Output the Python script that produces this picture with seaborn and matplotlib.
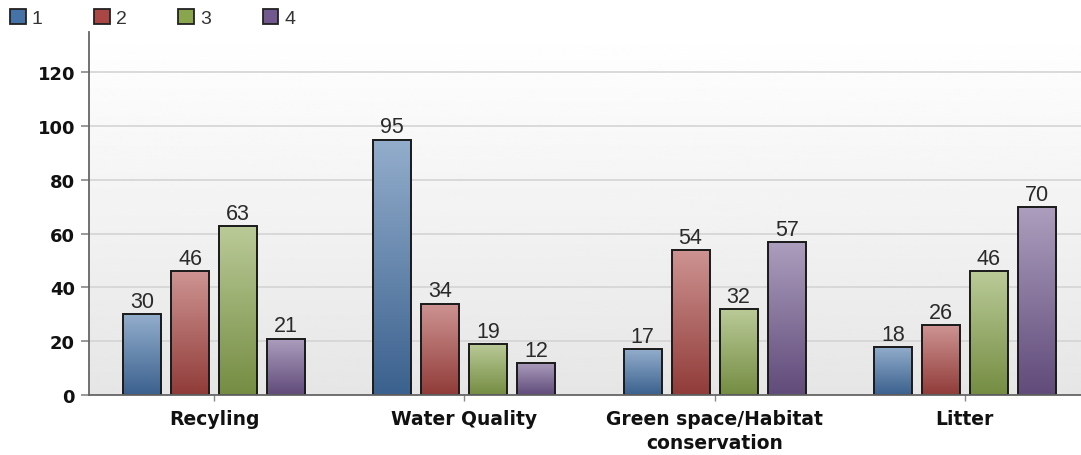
import numpy as np
import pandas as pd
import matplotlib
matplotlib.use("Agg")
import matplotlib.pyplot as plt
import matplotlib.colors as mcolors
from matplotlib.patches import Patch
import seaborn as sns

categories = ["Recyling", "Water Quality", "Green space/Habitat\nconservation", "Litter"]
series = ["1", "2", "3", "4"]
values_1 = [30, 95, 17, 18]
values_2 = [46, 34, 54, 26]
values_3 = [63, 19, 32, 46]
values_4 = [21, 12, 57, 70]
y_ticks = [0, 20, 40, 60, 80, 100, 120]
palette = ["#4572A7", "#AA4643", "#89A54E", "#71588F"]

df = pd.DataFrame({
    "category": categories * 4,
    "series": [s for s in series for _ in categories],
    "value": values_1 + values_2 + values_3 + values_4,
})

sns.set_theme(style="white")
plt.rcParams["font.family"] = ["Liberation Sans", "DejaVu Sans"]

fig = plt.figure(figsize=(10.81, 4.56), dpi=100)
ax = fig.add_axes([89 / 1081, 1 - 396 / 456, 1 - 89 / 1081, (396 - 33) / 456])

sns.barplot(data=df, x="category", y="value", hue="series", order=categories,
            hue_order=series, palette=palette, width=0.768, gap=0.21,
            edgecolor="#1a1a1a", linewidth=1.4, saturation=1, ax=ax, legend=False)

ax.set_xlim(-0.5, 3.464)
ax.set_ylim(0, 135)
ax.set_yticks(y_ticks)
ax.set_xlabel("")
ax.set_ylabel("")

# plot-area background: soft vertical gradient
bg = np.linspace(0.90, 1.0, 256).reshape(-1, 1)
ax.imshow(bg, cmap="gray", vmin=0, vmax=1, aspect="auto", origin="lower",
          extent=[-0.5, 3.464, 0, 135], zorder=-2)
ax.grid(axis="y", color="#d4d4d4", linewidth=1.2, zorder=-1)
ax.set_axisbelow(True)

# glossy gradient fill inside each bar
def shade(c, f):
    r = np.array(mcolors.to_rgb(c))
    return r + (1 - r) * f if f >= 0 else r * (1 + f)

for container, color in zip(ax.containers, palette):
    for bar in container:
        x0, y0 = bar.get_x(), bar.get_y()
        w, h = bar.get_width(), bar.get_height()
        t = np.linspace(0, 1, 128)
        top, bot = shade(color, 0.42), shade(color, -0.15)
        grad = (bot[None, :] * (1 - t[:, None]) + top[None, :] * t[:, None])
        img = ax.imshow(grad.reshape(-1, 1, 3), aspect="auto", origin="lower",
                        extent=[x0, x0 + w, y0, y0 + h], zorder=bar.get_zorder())
        img.set_clip_path(bar)
        bar.set_facecolor("none")
        bar.set_zorder(bar.get_zorder() + 0.1)
    ax.bar_label(container, padding=1.5, fontsize=15.5, color="#2a2a2a")

for s in ["top", "right"]:
    ax.spines[s].set_visible(False)
for s in ["left", "bottom"]:
    ax.spines[s].set_color("#666666")
    ax.spines[s].set_linewidth(1.3)

ax.tick_params(axis="y", which="both", left=True, length=6, width=1.2,
               color="#888888", labelsize=13, pad=4)
ax.tick_params(axis="x", which="both", bottom=True, length=4, width=1,
               color="#888888", labelsize=13.5, pad=6)
for lab in ax.get_xticklabels() + ax.get_yticklabels():
    lab.set_fontweight("bold")
    lab.set_fontfamily(["DejaVu Sans"])
    lab.set_color("#111111")
for lab in ax.get_xticklabels():
    lab.set_linespacing(1.35)

handles = [Patch(facecolor=c, edgecolor="#222222", linewidth=1.3) for c in palette]
fig.legend(handles, series, loc="upper left", bbox_to_anchor=(10 / 1081, 1 - 10 / 456),
           ncol=4, frameon=False, fontsize=14, handlelength=0.82, handleheight=0.82,
           handletextpad=0.3, columnspacing=2.65, borderpad=0, borderaxespad=0,
           labelcolor="#333333")

fig.savefig("out.png", dpi=100)
